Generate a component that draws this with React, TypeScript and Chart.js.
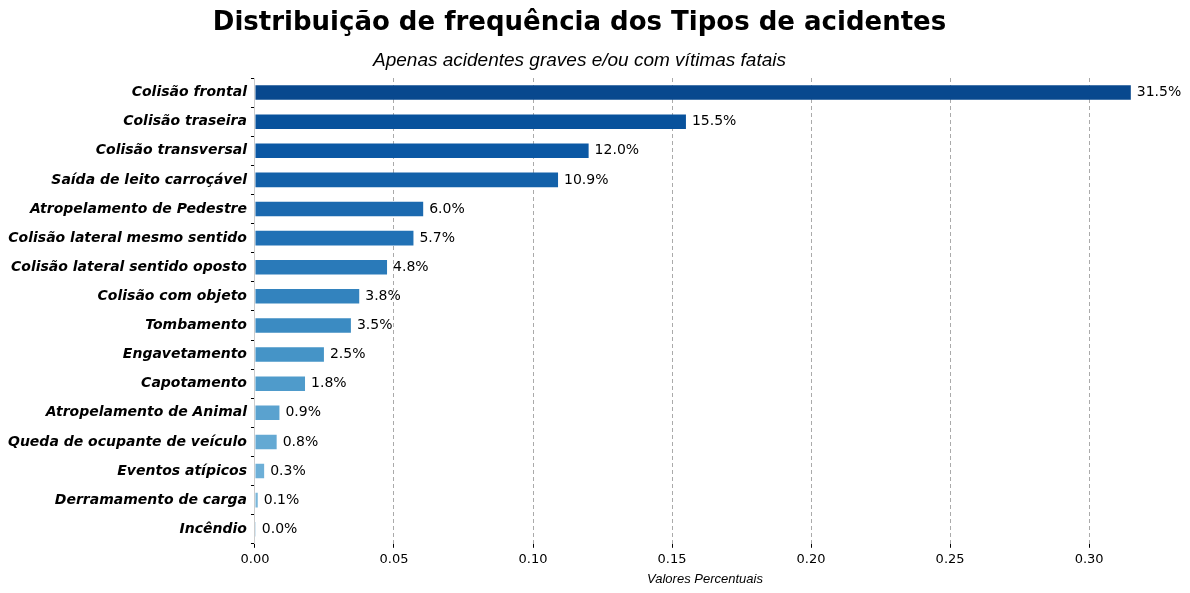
import React, { useEffect, useRef } from "react";
import { Chart, registerables } from "chart.js";
Chart.register(...registerables);

const categories = ["Colisão frontal","Colisão traseira","Colisão transversal","Saída de leito carroçável","Atropelamento de Pedestre","Colisão lateral mesmo sentido","Colisão lateral sentido oposto","Colisão com objeto","Tombamento","Engavetamento","Capotamento","Atropelamento de Animal","Queda de ocupante de veículo","Eventos atípicos","Derramamento de carga","Incêndio"];
const values = [0.315,0.155,0.120,0.109,0.0605,0.057,0.0475,0.0375,0.0345,0.0248,0.018,0.0088,0.0078,0.0033,0.001,0.0003];
const colors = ["#08488e","#08529c","#0b58a4","#1361a9","#1b69af","#2171b5","#2a7ab9","#3383be","#3b8bc2","#4594c7","#4f9bcb","#5aa2cf","#64a9d3","#6dafd7","#7ab6d9","#85bcdc"];
const xTicks = [0,0.05,0.1,0.15,0.2,0.25,0.3];

const labelPlugin = {
  id: "vals",
  afterDatasetsDraw(chart: any) {
    const ctx = chart.ctx;
    const meta = chart.getDatasetMeta(0);
    ctx.save();
    ctx.font = "14px 'DejaVu Sans'";
    ctx.fillStyle = "#000";
    ctx.textBaseline = "middle";
    meta.data.forEach((bar: any, i: number) => {
      ctx.fillText((values[i] * 100).toFixed(1) + "%", bar.x + 6, bar.y);
    });
    ctx.restore();
  },
};

export default function App() {
  const ref = useRef<HTMLCanvasElement>(null);
  useEffect(() => {
    document.body.style.margin = "0";
    const c = new Chart(ref.current!, {
      type: "bar",
      data: { labels: categories, datasets: [{ data: values, backgroundColor: colors, barPercentage: 0.5, categoryPercentage: 1 }] },
      options: {
        indexAxis: "y",
        animation: false,
        responsive: false,
        layout: { padding: { left: 4, right: 35, top: 0, bottom: 6 } },
        plugins: {
          legend: { display: false },
          tooltip: { enabled: false },
          title: { display: true, text: "Distribuição de frequência dos Tipos de acidentes", color: "#000", font: { size: 26, weight: "bold", family: "'DejaVu Sans'" }, padding: { top: 8, bottom: 10 } },
          subtitle: { display: true, text: "Apenas acidentes graves e/ou com vítimas fatais", color: "#000", font: { size: 19, style: "italic", family: "'Liberation Sans'" }, padding: { bottom: 6 } },
        },
        scales: {
          x: {
            min: 0, max: 0.3237,
            afterBuildTicks: (s: any) => { s.ticks = xTicks.map((v) => ({ value: v })); },
            ticks: { color: "#000", font: { size: 13, family: "'DejaVu Sans'" }, callback: (v: any) => Number(v).toFixed(2), padding: 4 },
            grid: { color: "#aaa", tickLength: 4, drawTicks: true, tickColor: "#000" } as any,
            border: { display: false, dash: [4, 3] } as any,
            title: { display: true, text: "Valores Percentuais", color: "#000", font: { size: 13, style: "italic", family: "'Liberation Sans'" }, padding: 0 },
          },
          y: {
            ticks: { color: "#000", font: { size: 14, weight: "bold", style: "italic", family: "'DejaVu Sans'" }, padding: 4 },
            grid: { display: true, drawOnChartArea: false, tickLength: 4, tickColor: "#000" },
            border: { display: true, color: "#ccc", dash: [4, 3] } as any,
          },
        },
      } as any,
      plugins: [labelPlugin],
    });
    return () => c.destroy();
  }, []);
  return <canvas ref={ref} width={1190} height={593} style={{ width: 1190, height: 593, display: "block" }} />;
}
